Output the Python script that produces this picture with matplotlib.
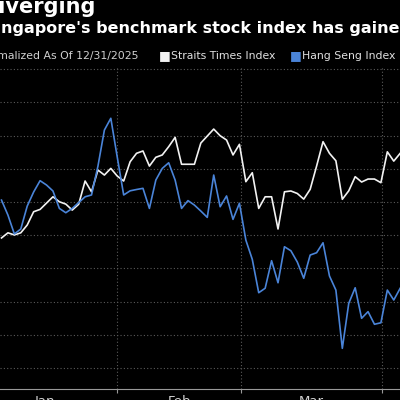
import numpy as np
import matplotlib
matplotlib.use('Agg')
import matplotlib.pyplot as plt

# Значення індексів (нормалізовано, 31.12.2025 = 100), по торгових сесіях
straits_times = [101.83, 102.14, 102.01, 102.14, 102.61, 103.41, 103.55, 103.93, 104.31, 104.01,
                 103.87, 103.51, 103.86, 105.26, 104.61, 105.92, 105.62, 106.02, 105.56, 105.26,
                 106.42, 106.93, 107.07, 106.16, 106.69, 106.83, 107.33, 107.89, 106.27, 106.27,
                 106.27, 107.55, 107.97, 108.39, 107.99, 107.73, 106.83, 107.47, 105.22, 105.76,
                 103.61, 104.31, 104.31, 102.37, 104.61, 104.66, 104.51, 104.17, 104.76, 106.16,
                 107.63, 106.93, 106.48, 104.16, 104.67, 105.52, 105.20, 105.38, 105.38, 105.16,
                 107.02, 106.46, 106.93]
hang_seng = [104.11, 103.21, 102.07, 102.37, 103.75, 104.60, 105.28, 105.02, 104.66, 103.61,
             103.35, 103.61, 103.96, 104.31, 104.42, 106.16, 108.33, 109.04, 106.70, 104.42,
             104.67, 104.75, 104.82, 103.61, 105.32, 106.02, 106.36, 105.32, 103.61, 104.08,
             103.81, 103.45, 103.07, 105.62, 103.71, 104.36, 102.95, 103.92, 101.70, 100.54,
             98.53, 98.80, 100.46, 99.13, 101.30, 101.06, 100.38, 99.40, 100.80, 100.94,
             101.54, 99.54, 98.69, 95.18, 97.89, 98.83, 96.99, 97.39, 96.63, 96.72,
             98.69, 98.09, 98.80]
months = ['Jan', 'Feb', 'Mar']
month_edges = [-4.43, 17.96, 37.25, 59.18]

sessions = np.arange(len(straits_times))

fig = plt.figure(figsize=(4, 4), dpi=100, facecolor='black')
ax = fig.add_axes([0, 0.0275, 1, 0.8075])
ax.set_facecolor('black')

ax.plot(sessions, straits_times, color='#f2f2f2', lw=1.2, zorder=3)
ax.plot(sessions, hang_seng, color='#4a84d8', lw=1.2, zorder=3)

# Сітка
ax.set_yticks(np.arange(94, 113, 2))
ax.set_xticks(month_edges)
ax.set_xticklabels([])
centers = [(month_edges[i] + month_edges[i + 1]) / 2 for i in range(len(months))]
ax.set_xticks(centers, minor=True)
ax.set_xticklabels(months, minor=True)
ax.grid(True, which='major', color='#5a5a5a', linestyle=(0, (1, 2)), lw=0.8)
ax.tick_params(axis='x', which='major', length=3, color='#999999', direction='out')
ax.tick_params(axis='x', which='minor', length=0, pad=4, labelsize=9.5, labelcolor='#d0d0d0')
ax.tick_params(axis='y', left=False, labelleft=False)

# межі задаємо після тиків, інакше set_xticks їх розширює
ax.set_xlim(-0.233, 61.97)
ax.set_ylim(92.73, 112.19)

for side in ['top', 'left', 'right']:
    ax.spines[side].set_visible(False)
ax.spines['bottom'].set_color('#999999')
ax.spines['bottom'].set_linewidth(0.8)

# Заголовки та легенда
fig.text(-19 / 400, 1 - 13 / 400, 'Diverging', color='white', fontsize=15,
         fontweight='bold', ha='left', va='baseline')
fig.text(-16 / 400, 1 - 33 / 400,
         "Singapore's benchmark stock index has gained while Hong Kong's has fallen",
         color='white', fontsize=11.5, fontweight='bold', ha='left', va='baseline')
fig.text(-22 / 400, 1 - 59 / 400, 'Normalized As Of 12/31/2025', color='#d0d0d0',
         fontsize=7.8, ha='left', va='baseline')
fig.text(159 / 400, 1 - 59 / 400, '\u25a0', color='#f2f2f2', fontsize=9, ha='left', va='baseline')
fig.text(171 / 400, 1 - 59 / 400, 'Straits Times Index', color='#e0e0e0',
         fontsize=7.8, ha='left', va='baseline')
fig.text(290 / 400, 1 - 59 / 400, '\u25a0', color='#4a84d8', fontsize=9, ha='left', va='baseline')
fig.text(302 / 400, 1 - 59 / 400, 'Hang Seng Index', color='#e0e0e0',
         fontsize=7.8, ha='left', va='baseline')

fig.savefig('out.png', dpi=100, facecolor='black')
